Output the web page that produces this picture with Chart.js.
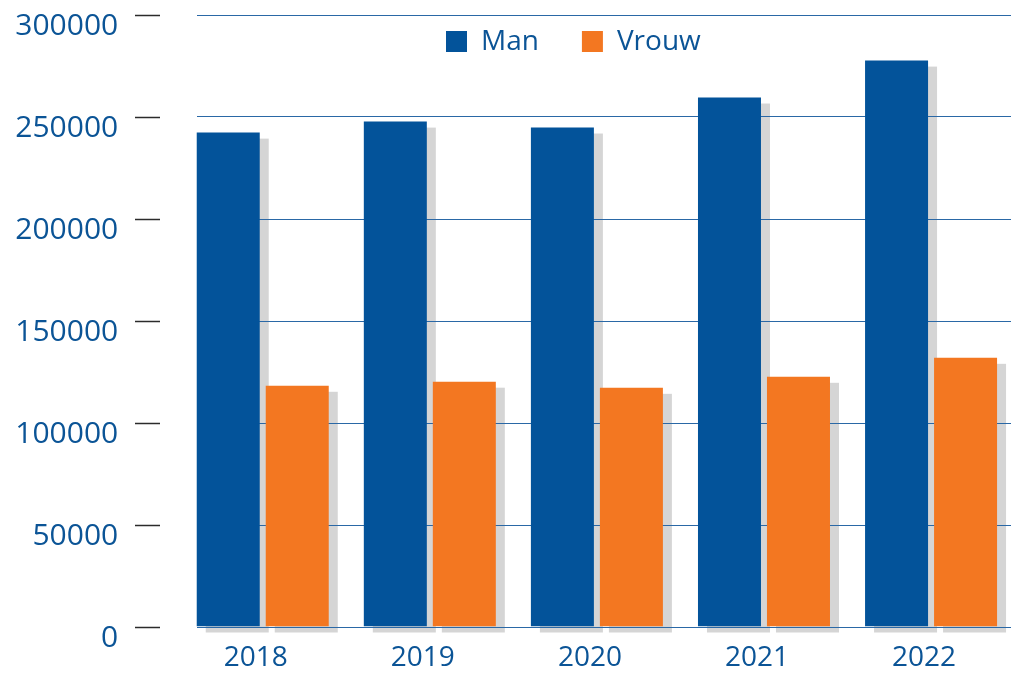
<!DOCTYPE html>
<html>
<head>
<meta charset="utf-8">
<script src="https://cdn.jsdelivr.net/npm/chart.js@4"></script>
<style>
html,body{margin:0;padding:0;overflow:hidden;background:#fff;}
#wrap{position:relative;width:1030px;height:674px;}
</style>
</head>
<body>
<div id="wrap"><canvas id="c" width="1030" height="674"></canvas></div>
<script>
const categories = ['2018', '2019', '2020', '2021', '2022'];
const seriesNames = ['Man', 'Vrouw'];
const manValues = [242100, 247500, 244600, 259300, 277400];
const vrouwValues = [118000, 120000, 117000, 122400, 131700];
const yTicks = [0, 50000, 100000, 150000, 200000, 250000, 300000];

const BLUE = '#03539a';
const ORANGE = '#f37721';
const TEXT = '#0b5496';
const FONT = "'Open Sans', sans-serif";

const decorPlugin = {
  id: 'decor',
  beforeDatasetsDraw(chart) {
    const ctx = chart.ctx;
    const y = chart.scales.y;
    ctx.save();
    // shadows
    ctx.fillStyle = '#d5d5d5';
    chart.data.datasets.forEach((ds, i) => {
      chart.getDatasetMeta(i).data.forEach(el => {
        const p = el.getProps(['x', 'y', 'base', 'width'], true);
        ctx.fillRect(p.x - p.width / 2 + 9, p.y + 6, p.width, p.base - p.y);
      });
    });
    // gridlines
    ctx.strokeStyle = '#2a68a6';
    ctx.lineWidth = 1.1;
    yTicks.forEach(v => {
      const py = Math.round(y.getPixelForValue(v)) + 0.5;
      ctx.beginPath();
      ctx.moveTo(197, py);
      ctx.lineTo(1011, py);
      ctx.stroke();
    });
    ctx.restore();
  },
  afterDraw(chart) {
    const ctx = chart.ctx;
    const y = chart.scales.y;
    ctx.save();
    // tick dashes
    ctx.strokeStyle = '#2b2b2b';
    ctx.lineWidth = 1.5;
    yTicks.forEach(v => {
      const py = y.getPixelForValue(v) + 1;
      ctx.beginPath();
      ctx.moveTo(135, py);
      ctx.lineTo(160, py);
      ctx.stroke();
    });
    // legend
    ctx.font = '28px ' + FONT;
    ctx.textBaseline = 'middle';
    ctx.textAlign = 'left';
    let lx = 446;
    chart.data.datasets.forEach((ds, i) => {
      ctx.fillStyle = ds.backgroundColor;
      ctx.fillRect(lx, 31, 21, 21);
      ctx.fillStyle = TEXT;
      ctx.fillText(ds.label, lx + 35, 42);
      lx += 35 + ctx.measureText(ds.label).width + 43;
    });
    ctx.restore();
  }
};

new Chart(document.getElementById('c'), {
  type: 'bar',
  data: {
    labels: categories,
    datasets: [
      { label: seriesNames[0], data: manValues, backgroundColor: BLUE },
      { label: seriesNames[1], data: vrouwValues, backgroundColor: ORANGE }
    ]
  },
  options: {
    responsive: false,
    animation: false,
    devicePixelRatio: 1,
    categoryPercentage: 0.826,
    barPercentage: 0.913,
    layout: { padding: { left: 0, right: 15.4, top: 14.5, bottom: 0 } },
    plugins: { legend: { display: false }, tooltip: { enabled: false } },
    scales: {
      x: {
        grid: { display: false, drawTicks: false },
        border: { display: false },
        ticks: {
          color: TEXT,
          font: { family: FONT, size: 28 },
          padding: 15,
          labelOffset: -7,
          maxRotation: 0
        },
        afterFit(s) { s.height = 47.5; s.paddingLeft = 0; s.paddingRight = 0; }
      },
      y: {
        min: 0,
        max: 300000,
        grid: { display: false, drawTicks: false },
        border: { display: false },
        ticks: {
          stepSize: 50000,
          color: TEXT,
          font: { family: FONT, size: 30 },
          padding: 61,
          labelOffset: 11.5,
          callback: v => String(v)
        },
        afterFit(s) { s.width = 179.2; s.paddingTop = 0; s.paddingBottom = 0; }
      }
    }
  },
  plugins: [decorPlugin]
});
</script>
</body>
</html>
